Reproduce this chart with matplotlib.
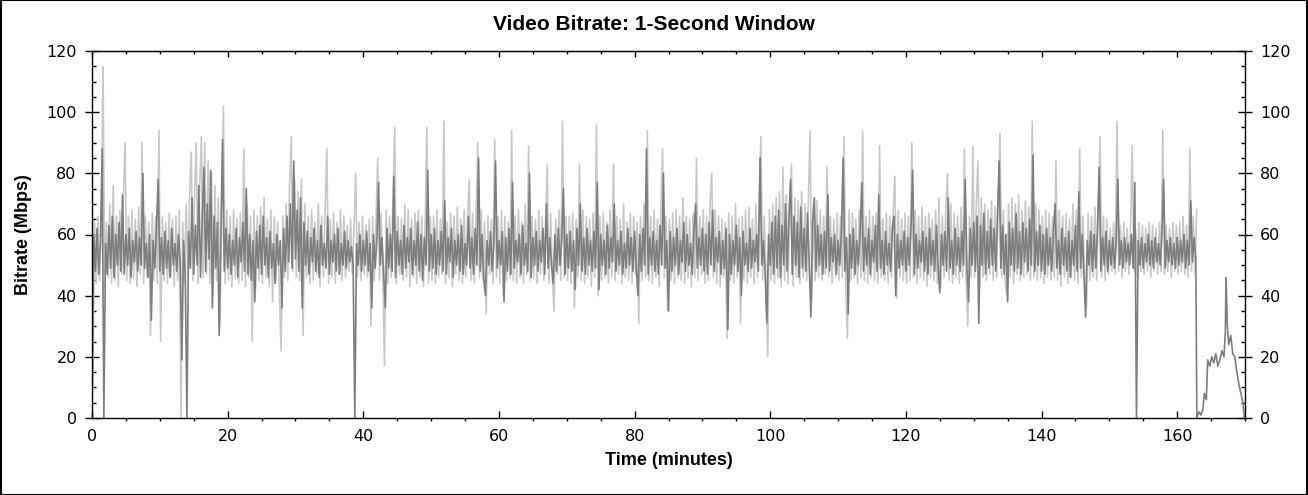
import numpy as np
import matplotlib
matplotlib.use('Agg')
from matplotlib import pyplot as plt
from matplotlib.ticker import MultipleLocator
from matplotlib.patches import Rectangle

# dark trace: one sample every 0.25 min starting at t = 0 (one row = 10 minutes)
dark_bitrate = [
    0, 60, 48, 62, 47, 58, 88, 0, 57, 47, 63, 49, 66, 46, 60, 50, 64, 48, 73, 47,
    60, 50, 62, 46, 58, 51, 61, 48, 59, 50, 80, 49, 57, 46, 60, 32, 58, 49, 62, 78,
    48, 59, 47, 61, 49, 58, 46, 62, 50, 57, 48, 60, 51, 19, 58, 47, 0, 61, 49, 72,
    47, 63, 50, 76, 46, 65, 82, 48, 70, 52, 81, 36, 66, 49, 64, 27, 60, 91, 48, 62,
    49, 60, 47, 58, 50, 62, 46, 59, 51, 64, 48, 75, 47, 60, 45, 58, 38, 61, 49, 63,
    47, 66, 50, 59, 46, 61, 49, 57, 44, 60, 50, 58, 36, 62, 48, 66, 51, 70, 49, 84,
    52, 68, 48, 72, 36, 64, 50, 61, 47, 59, 51, 62, 48, 58, 46, 63, 50, 57, 49, 66,
    47, 58, 51, 60, 48, 62, 47, 57, 50, 61, 49, 58, 51, 56, 50, 0, 57, 50, 60, 48,
    58, 50, 61, 48, 57, 36, 60, 49, 58, 77, 50, 59, 47, 36, 62, 49, 60, 48, 79, 46,
    61, 50, 58, 47, 63, 49, 59, 51, 62, 47, 58, 50, 64, 48, 60, 45, 59, 50, 81, 48,
    60, 49, 62, 47, 58, 50, 61, 48, 71, 47, 59, 51, 62, 46, 58, 50, 60, 48, 63, 47,
    57, 50, 66, 49, 59, 47, 62, 50, 85, 48, 60, 46, 40, 58, 50, 61, 48, 57, 84, 49,
    58, 50, 61, 38, 59, 48, 62, 47, 77, 49, 58, 51, 60, 47, 63, 50, 57, 48, 80, 46,
    59, 50, 61, 48, 58, 51, 62, 47, 70, 49, 59, 50, 44, 60, 48, 62, 50, 58, 75, 47,
    60, 49, 61, 48, 58, 42, 62, 50, 70, 48, 59, 47, 62, 50, 58, 48, 61, 49, 77, 42,
    60, 50, 58, 47, 63, 49, 59, 51, 70, 48, 58, 50, 61, 47, 57, 49, 62, 50, 59, 48,
    61, 49, 40, 60, 48, 62, 50, 88, 47, 59, 50, 61, 48, 58, 47, 63, 50, 80, 49, 58,
    35, 61, 48, 59, 50, 62, 47, 58, 51, 64, 48, 60, 50, 57, 47, 61, 70, 49, 59, 50,
    62, 48, 60, 47, 64, 50, 68, 48, 59, 51, 61, 47, 58, 49, 62, 29, 60, 47, 58, 50,
    63, 48, 59, 40, 61, 50, 57, 48, 62, 49, 58, 51, 60, 48, 85, 50, 58, 47, 31, 60,
    50, 64, 47, 66, 49, 68, 46, 63, 50, 70, 48, 65, 78, 47, 66, 50, 64, 46, 69, 49,
    62, 48, 67, 50, 33, 64, 72, 48, 63, 50, 60, 47, 61, 49, 73, 48, 59, 51, 60, 47,
    58, 50, 61, 85, 48, 59, 34, 60, 49, 62, 47, 58, 50, 61, 77, 48, 59, 50, 62, 47,
    58, 51, 63, 48, 73, 49, 58, 47, 61, 50, 57, 48, 62, 66, 40, 60, 49, 58, 50, 61,
    48, 59, 50, 62, 81, 47, 60, 49, 58, 51, 61, 48, 59, 47, 62, 50, 58, 48, 63, 49,
    41, 60, 50, 61, 48, 72, 49, 58, 47, 62, 50, 59, 48, 61, 50, 78, 49, 38, 62, 50,
    64, 48, 66, 31, 63, 50, 67, 47, 61, 49, 65, 50, 62, 48, 66, 84, 49, 63, 47, 60,
    38, 64, 50, 62, 48, 67, 49, 61, 47, 64, 51, 62, 48, 65, 50, 86, 48, 61, 50, 63,
    48, 60, 47, 62, 50, 59, 48, 61, 70, 49, 58, 47, 62, 50, 59, 48, 61, 46, 58, 50,
    63, 48, 74, 49, 60, 47, 33, 58, 50, 61, 48, 60, 49, 62, 82, 48, 59, 50, 61, 48,
    58, 50, 59, 49, 57, 78, 50, 58, 49, 59, 51, 57, 50, 60, 49, 77, 0, 58, 50, 59,
    49, 57, 51, 60, 50, 58, 49, 59, 51, 57, 50, 60, 78, 49, 58, 51, 59, 50, 57, 49,
    59, 50, 58, 51, 60, 49, 58, 50, 71, 51, 59, 52,
]

# light trace: one sample every 0.25 min starting at t = 0.125
light_bitrate = [
    10, 64, 44, 66, 45, 62, 115, 43, 64, 46, 70, 44, 76, 45, 66, 43, 68, 47, 72, 90,
    45, 66, 44, 68, 46, 65, 43, 69, 47, 90, 44, 66, 46, 64, 27, 67, 45, 66, 44, 94,
    25, 66, 45, 64, 44, 67, 46, 65, 43, 66, 45, 68, 0, 64, 44, 70, 46, 72, 87, 45,
    74, 90, 44, 76, 92, 46, 90, 47, 84, 44, 80, 40, 76, 45, 72, 30, 70, 102, 44, 68,
    45, 66, 43, 68, 46, 65, 44, 67, 45, 88, 43, 70, 46, 66, 25, 68, 42, 66, 45, 69,
    44, 72, 46, 65, 43, 68, 38, 66, 45, 64, 42, 22, 66, 46, 70, 45, 76, 92, 48, 78,
    46, 74, 45, 78, 27, 70, 46, 66, 44, 68, 45, 64, 47, 70, 43, 66, 46, 68, 88, 44,
    65, 46, 67, 44, 64, 47, 68, 45, 66, 46, 63, 48, 65, 47, 62, 80, 46, 64, 45, 66,
    47, 63, 46, 65, 30, 66, 45, 64, 85, 45, 67, 46, 17, 68, 44, 66, 46, 70, 95, 44,
    66, 47, 65, 45, 70, 46, 68, 43, 65, 46, 67, 44, 68, 46, 66, 43, 64, 95, 44, 66,
    45, 66, 44, 68, 46, 65, 47, 97, 44, 64, 46, 67, 43, 66, 47, 69, 45, 65, 44, 68,
    46, 66, 78, 45, 67, 44, 66, 90, 46, 68, 45, 64, 34, 66, 47, 65, 44, 91, 46, 66,
    44, 68, 40, 66, 45, 64, 46, 94, 45, 66, 44, 68, 46, 64, 44, 70, 47, 89, 45, 66,
    46, 65, 44, 68, 47, 66, 45, 64, 83, 44, 67, 46, 35, 65, 47, 68, 45, 97, 46, 66,
    45, 66, 44, 67, 36, 65, 46, 83, 45, 68, 44, 66, 46, 65, 43, 67, 46, 96, 40, 66,
    45, 67, 46, 64, 44, 68, 46, 83, 45, 66, 47, 65, 44, 70, 46, 64, 45, 67, 44, 66,
    47, 64, 31, 66, 45, 70, 46, 94, 45, 66, 44, 68, 46, 65, 43, 69, 88, 46, 66, 35,
    65, 45, 67, 44, 68, 46, 66, 45, 72, 44, 66, 46, 65, 43, 67, 46, 85, 45, 66, 47,
    68, 44, 66, 45, 70, 80, 46, 68, 44, 66, 43, 65, 46, 64, 26, 67, 45, 66, 44, 70,
    46, 65, 31, 66, 45, 68, 44, 69, 46, 65, 44, 70, 46, 72, 92, 45, 66, 46, 20, 68,
    45, 70, 44, 72, 46, 74, 43, 82, 45, 73, 44, 70, 83, 43, 72, 46, 71, 44, 74, 46,
    70, 45, 72, 94, 38, 70, 45, 71, 46, 68, 45, 66, 47, 82, 46, 66, 44, 65, 46, 67,
    45, 66, 46, 92, 44, 26, 68, 45, 67, 46, 65, 44, 68, 46, 94, 45, 66, 44, 68, 46,
    66, 45, 67, 44, 89, 46, 65, 45, 67, 44, 66, 46, 68, 79, 39, 68, 46, 65, 45, 67,
    44, 66, 45, 90, 46, 68, 44, 66, 46, 69, 45, 66, 43, 67, 46, 65, 45, 68, 44, 72,
    42, 66, 46, 68, 80, 45, 70, 44, 67, 46, 66, 44, 69, 46, 88, 45, 30, 66, 46, 89,
    46, 70, 84, 44, 72, 46, 70, 45, 68, 47, 71, 45, 69, 46, 72, 93, 46, 68, 45, 40,
    70, 46, 72, 44, 70, 47, 73, 45, 68, 46, 71, 47, 69, 45, 97, 46, 70, 45, 68, 46,
    66, 44, 68, 46, 67, 45, 66, 46, 84, 45, 68, 43, 66, 46, 67, 44, 65, 46, 70, 45,
    68, 44, 88, 46, 66, 44, 36, 67, 45, 66, 46, 69, 45, 68, 92, 46, 66, 45, 65, 47,
    62, 48, 64, 47, 97, 48, 63, 46, 64, 48, 62, 47, 63, 89, 48, 62, 46, 64, 48, 63,
    47, 62, 48, 64, 46, 63, 48, 62, 47, 64, 48, 94, 47, 63, 48, 62, 46, 64, 48, 63,
    47, 64, 48, 66, 47, 63, 46, 88, 48, 66, 47, 68,
]

# end credits part after the main feature
tail_time = [162.9, 163.2, 163.5, 163.8, 164.0, 164.3, 164.5, 164.8, 165.1, 165.4,
             165.7, 166.0, 166.3, 166.6, 166.9, 167.1, 167.2, 167.4, 167.6, 167.9,
             168.2, 168.5, 168.8, 169.1, 169.4, 169.7, 169.9]
tail_bitrate = [0, 2, 1, 3, 8, 6, 19, 17, 20, 18,
                21, 17, 19, 22, 20, 28, 46, 30, 24, 27,
                21, 20, 15, 11, 8, 5, 0]

dark_time = np.arange(len(dark_bitrate)) * 0.25
light_time = 0.125 + np.arange(len(light_bitrate)) * 0.25

fig = plt.figure(figsize=(13.08, 4.95), dpi=100)
ax = fig.add_axes([92/1308, 1-418/495, (1245-92)/1308, (418-51)/495])

ax.plot(light_time, light_bitrate, color='#c8c8c8', linewidth=1.2)
ax.plot(np.concatenate([dark_time, tail_time]),
        np.concatenate([dark_bitrate, tail_bitrate]),
        color='#7e7e7e', linewidth=1.2)

ax.set_xlim(0, 170)
ax.set_ylim(0, 120)
ax.xaxis.set_major_locator(MultipleLocator(20))
ax.xaxis.set_minor_locator(MultipleLocator(5))
ax.yaxis.set_major_locator(MultipleLocator(20))
ax.yaxis.set_minor_locator(MultipleLocator(5))

ax.tick_params(axis='y', which='major', direction='inout', length=10, width=1,
               left=True, right=True, labelleft=True, labelright=True,
               labelsize=11.5, pad=6)
ax.tick_params(axis='y', which='minor', direction='in', length=3, width=1,
               left=True, right=True)
ax.tick_params(axis='x', which='major', direction='in', length=5, width=1,
               labelsize=11.5, pad=8)
ax.tick_params(axis='x', which='minor', direction='out', length=2.5, width=1)

top = ax.secondary_xaxis('top')
top.xaxis.set_major_locator(MultipleLocator(20))
top.xaxis.set_minor_locator(MultipleLocator(5))
top.tick_params(which='major', direction='in', length=4, width=1, labeltop=False)
top.tick_params(which='minor', direction='in', length=2, width=1)

for s in ax.spines.values():
    s.set_linewidth(1)

# title is centred on the whole picture, not on the axes
fig.text(0.5, 1 - 24/495, 'Video Bitrate: 1-Second Window', ha='center', va='center',
         fontname='Liberation Sans', fontweight='bold', fontsize=15)
ax.set_xlabel('Time (minutes)', fontname='Liberation Sans', fontweight='bold',
              fontsize=13, labelpad=6)
ax.set_ylabel('Bitrate (Mbps)', fontname='Liberation Sans', fontweight='bold',
              fontsize=13, labelpad=10)

fig.patches.append(Rectangle((0.0005, 0.001), 0.999, 0.998, transform=fig.transFigure,
                             fill=False, edgecolor='black', linewidth=1.5))

fig.savefig('out.png', dpi=100)
